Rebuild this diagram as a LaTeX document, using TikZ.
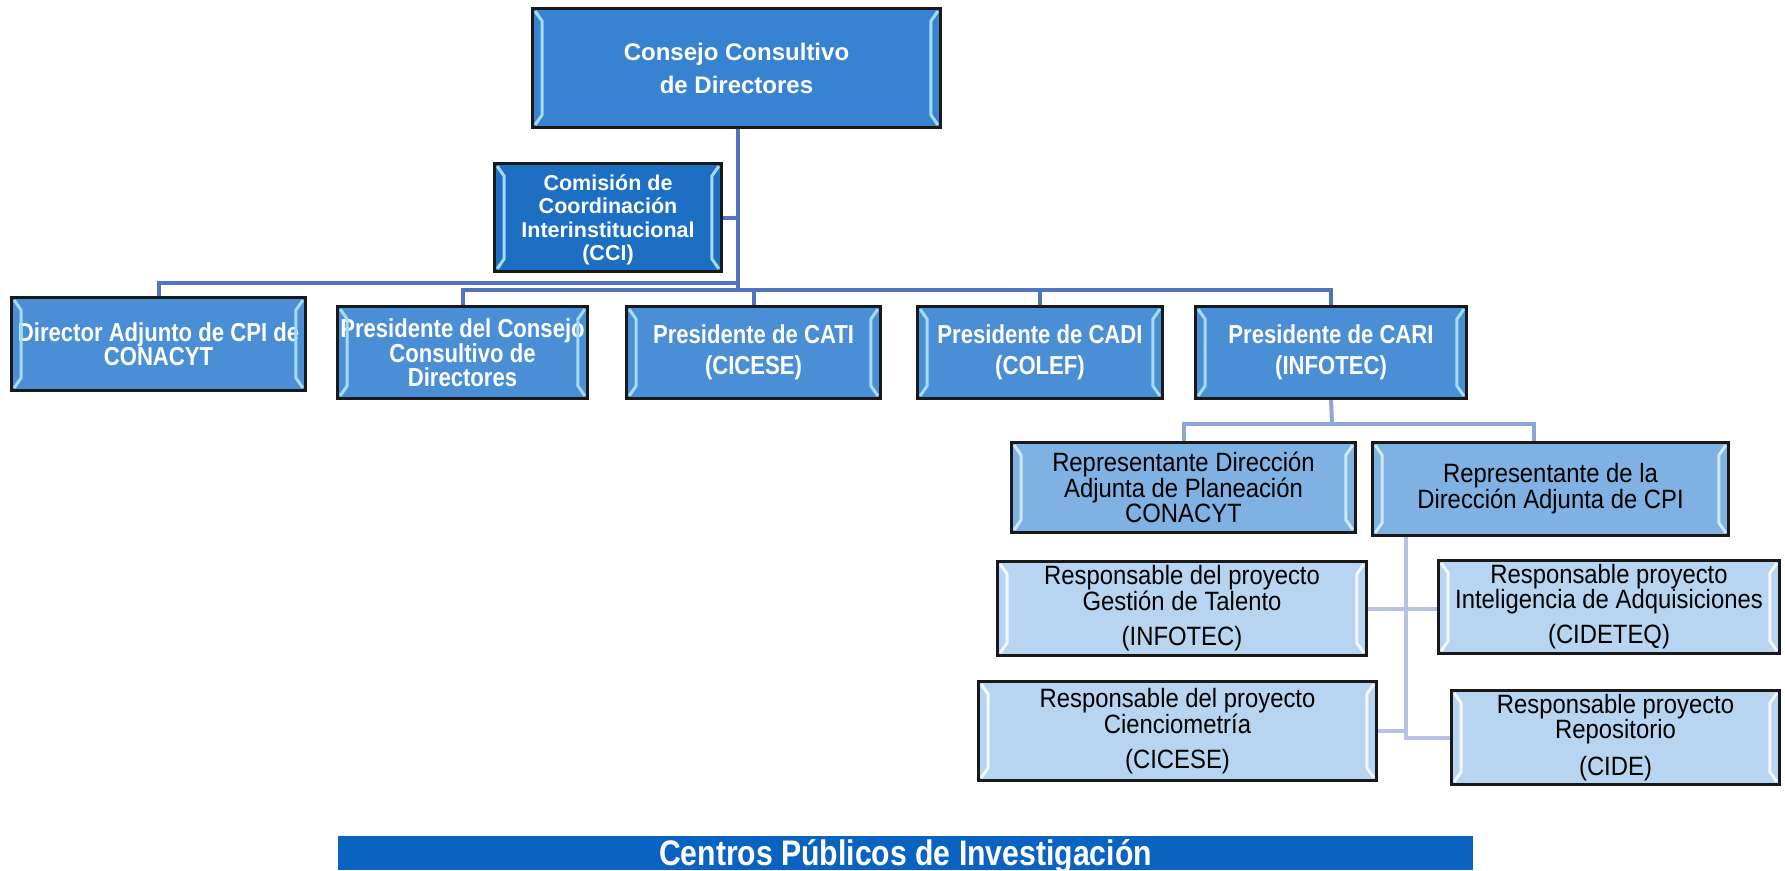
\documentclass[tikz,border=0pt]{standalone}
\usepackage{fontspec}
\setmainfont{Liberation Sans}
\newfontfamily\narrowfont{Liberation Sans}[FakeStretch=0.85]
\newfontfamily\semifont{Liberation Sans}[FakeStretch=0.9]
\definecolor{topblue}{HTML}{3783D1}
\definecolor{ccblue}{HTML}{1C6FC2}
\definecolor{lvtwo}{HTML}{4A8FD6}
\definecolor{lvthree}{HTML}{7FB1E2}
\definecolor{lvfour}{HTML}{B7D4F0}
\definecolor{barblue}{HTML}{0A63C0}
\definecolor{lineone}{HTML}{5174C2}
\definecolor{linetwo}{HTML}{8FA5D6}
\definecolor{linethree}{HTML}{B9C1E3}
\definecolor{bevdark}{HTML}{A6DAF6}
\definecolor{bevmid}{HTML}{CFE8FA}
\definecolor{bevlight}{HTML}{F2F8FE}
\newcommand{\bev}[2]{%
  \draw[#2, line width=3pt, line join=round]
    ([shift={(3pt,-3pt)}]#1.north west) -- ([shift={(10pt,-13pt)}]#1.north west)
    -- ([shift={(10pt,13pt)}]#1.south west) -- ([shift={(3pt,3pt)}]#1.south west);
  \draw[#2, line width=3pt, line join=round]
    ([shift={(-3pt,-3pt)}]#1.north east) -- ([shift={(-10pt,-13pt)}]#1.north east)
    -- ([shift={(-10pt,13pt)}]#1.south east) -- ([shift={(-3pt,3pt)}]#1.south east);
}
\begin{document}
\begin{tikzpicture}[x=1pt,y=-1pt,
  box/.style={draw=black!90, line width=1.7pt, inner sep=0pt, align=center},
  boxtop/.style={box, fill=topblue, text=white, font=\bfseries\fontsize{24}{33}\selectfont},
  boxcci/.style={box, fill=ccblue, text=white, font=\bfseries\fontsize{21.5}{23.5}\selectfont},
  boxtwo/.style={box, fill=lvtwo, text=white, minimum height=91pt},
  boxthree/.style={box, fill=lvthree, text=black, font=\semifont\fontsize{26.5}{25}\selectfont},
  boxfour/.style={box, fill=lvfour, text=black, font=\semifont\fontsize{26.5}{25}\selectfont},
  cone/.style={draw=lineone, line width=4pt},
  ctwo/.style={draw=linetwo, line width=4pt},
  cthree/.style={draw=linethree, line width=4pt}]
\useasboundingbox (0,0) rectangle (1785,870);

% junction coordinates
\coordinate (ja) at (738,283);
\coordinate (jb) at (738,290);
\coordinate (jc) at (1332,424);
\coordinate (jd) at (1534,424);
\coordinate (je) at (1406,535);

% nodes
\node[boxtop, minimum width=407pt, minimum height=118pt] (top) at (736.5,68) {Consejo Consultivo\\de Directores};
\node[boxcci, minimum width=226pt, minimum height=107pt, text depth=0pt] (cci) at (608,217.5) {Comisión de\\Coordinación\\Interinstitucional\\(CCI)};
\node[boxtwo, minimum width=293pt, minimum height=92pt, font=\narrowfont\bfseries\fontsize{26}{24}\selectfont] (dir) at (158.5,344) {Director Adjunto de CPI de\\CONACYT};
\node[boxtwo, minimum width=249pt, font=\narrowfont\bfseries\fontsize{26}{23.5}\selectfont] (pcc) at (462.5,352.5) {Presidente del Consejo\\Consultivo de\\Directores};
\node[boxtwo, minimum width=253pt, font=\narrowfont\bfseries\fontsize{26}{31}\selectfont] (cati) at (753.5,352.5) {Presidente de CATI\\(CICESE)};
\node[boxtwo, minimum width=244pt, font=\narrowfont\bfseries\fontsize{26}{31}\selectfont] (cadi) at (1040,352.5) {Presidente de CADI\\(COLEF)};
\node[boxtwo, minimum width=270pt, font=\narrowfont\bfseries\fontsize{26}{31}\selectfont] (cari) at (1331,352.5) {Presidente de CARI\\(INFOTEC)};
\node[boxthree, minimum width=343pt, minimum height=89pt] (plan) at (1183.5,487.5) {Representante Dirección\\Adjunta de Planeación\\CONACYT};
\node[boxthree, minimum width=355pt, minimum height=92pt, font=\semifont\fontsize{26.5}{26}\selectfont] (cpi) at (1550.5,489) {Representante de la\\Dirección Adjunta de CPI};
\node[boxfour, minimum width=368pt, minimum height=93pt] (gest) at (1182,608.5) {Responsable del proyecto\\Gestión de Talento\\[10pt](INFOTEC)};
\node[boxfour, minimum width=340pt, minimum height=92pt] (intel) at (1609,607) {Responsable proyecto\\Inteligencia de Adquisiciones\\[10pt](CIDETEQ)};
\node[boxfour, minimum width=397pt, minimum height=98pt] (cien) at (1177.5,731) {Responsable del proyecto\\Cienciometría\\[10pt](CICESE)};
\node[boxfour, minimum width=327pt, minimum height=93pt] (repo) at (1615.5,737.5) {Responsable proyecto\\Repositorio\\[12pt](CIDE)};
\node[fill=barblue, text=white, inner sep=0pt, minimum width=1135pt, minimum height=34pt,
      text height=26pt, text depth=8pt,
      font=\narrowfont\bfseries\fontsize{35.5}{35.5}\selectfont] (bar) at (905.5,853) {\raisebox{-3pt}{Centros Públicos de Investigación}};

% connectors
\draw[cone] (top.south -| ja) -- (jb);
\draw[cone] (cci.east) -- (cci.east -| ja);
\draw[cone] (dir.north) |- (ja);
\draw[cone] (pcc.north) |- (jb);
\draw[cone] (jb) -| (cari.north);
\draw[cone] (cati.north) -- (cati.north |- jb);
\draw[cone] (cadi.north) -- (cadi.north |- jb);
\draw[ctwo] (cari.south) -- (jc);
\draw[ctwo] (plan.north) |- (jd) -- (cpi.north -| jd);
\draw[cthree] (je) |- (repo.west);
\draw[cthree] (gest.east) -- (gest.east -| intel.west);
\draw[cthree] (cien.east) -- (cien.east -| je);

% redraw node borders over connector ends
\foreach \n in {top,cci,dir,pcc,cati,cadi,cari,plan,cpi,gest,intel,cien,repo}{
  \draw[black!90, line width=1.7pt] (\n.north west) rectangle (\n.south east);
}
\bev{top}{bevdark}
\bev{cci}{bevdark}
\bev{dir}{bevdark}
\bev{pcc}{bevdark}
\bev{cati}{bevdark}
\bev{cadi}{bevdark}
\bev{cari}{bevdark}
\bev{plan}{bevmid}
\bev{cpi}{bevmid}
\bev{gest}{bevlight}
\bev{intel}{bevlight}
\bev{cien}{bevlight}
\bev{repo}{bevlight}
\end{tikzpicture}
\end{document}
